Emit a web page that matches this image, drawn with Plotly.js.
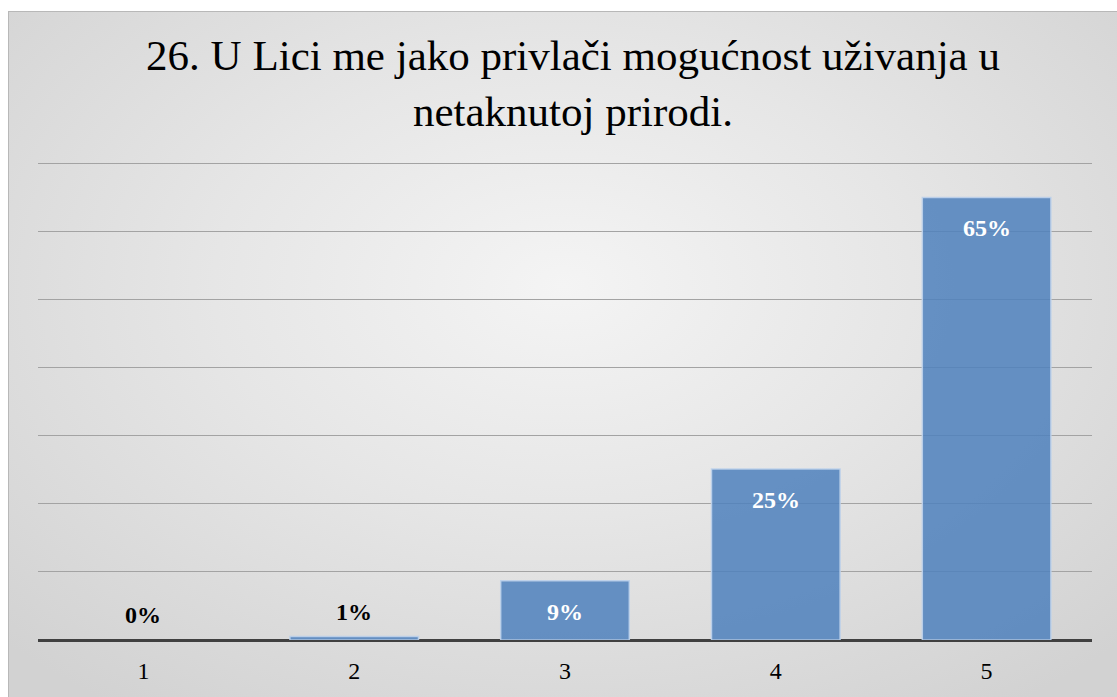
<!DOCTYPE html>
<html>
<head>
<meta charset="utf-8">
<script src="https://cdn.plot.ly/plotly-3.0.1.min.js"></script>
<style>
html,body{margin:0;padding:0;background:#fff;}
#bg{position:absolute;left:8px;top:11px;width:1109px;height:686px;box-sizing:border-box;border-left:1px solid #b8b8b8;border-top:1px solid #b8b8b8;
background:radial-gradient(ellipse 70% 75% at 50% 40%, #f4f4f4 0%, #e6e6e6 45%, #d2d2d2 100%);}
#chart{position:absolute;left:0;top:0;width:1117px;height:697px;}
</style>
</head>
<body>
<div id="bg"></div>
<div id="chart"></div>
<script>
const categories = ['1', '2', '3', '4', '5'];
const values = [0, 0.5, 8.7, 25.1, 65];
const labels = ['0%', '1%', '9%', '25%', '65%'];
const titleText = '26. U Lici me jako privlači mogućnost uživanja u<br>netaknutoj prirodi.';
const serif = 'Liberation Serif';

const trace = {
  type: 'bar',
  x: categories,
  y: values,
  marker: {color: 'rgba(79,129,189,0.86)',
    line: {color: 'rgba(190,210,235,0.9)', width: values.map(v => v > 0 ? 1.5 : 0)}},
  hoverinfo: 'skip'
};

const annotations = categories.map((c, i) => {
  const inside = values[i] > 5;
  return {
    x: i, y: values[i], xref: 'x', yref: 'y',
    text: '<b>' + labels[i] + '</b>', showarrow: false,
    yanchor: inside ? 'top' : 'bottom',
    yshift: inside ? -16 : 10,
    font: {family: serif, size: 24, color: inside ? '#ffffff' : '#000000'}
  };
});

const layout = {
  width: 1117, height: 697,
  paper_bgcolor: 'rgba(0,0,0,0)', plot_bgcolor: 'rgba(0,0,0,0)',
  margin: {l: 37.5, r: 24.5, t: 160.3, b: 57.3},
  showlegend: false,
  bargap: 0.39,
  title: {text: titleText, x: 0.513, xanchor: 'center', y: 0.9, yanchor: 'top',
    font: {family: serif, size: 43, color: '#000'}},
  xaxis: {type: 'category', showgrid: false, ticks: '', showline: false, zeroline: false,
    tickfont: {family: serif, size: 24, color: '#000'}, ticklabelstandoff: 14},
  yaxis: {range: [0, 70.5], dtick: 10, showticklabels: false, showgrid: true, gridcolor: '#a3a3a3', gridwidth: 1,
    zeroline: true, zerolinecolor: '#404040', zerolinewidth: 3, showline: false, ticks: ''},
  annotations: annotations
};

Plotly.newPlot('chart', [trace], layout, {displayModeBar: false, staticPlot: true});
</script>
</body>
</html>
